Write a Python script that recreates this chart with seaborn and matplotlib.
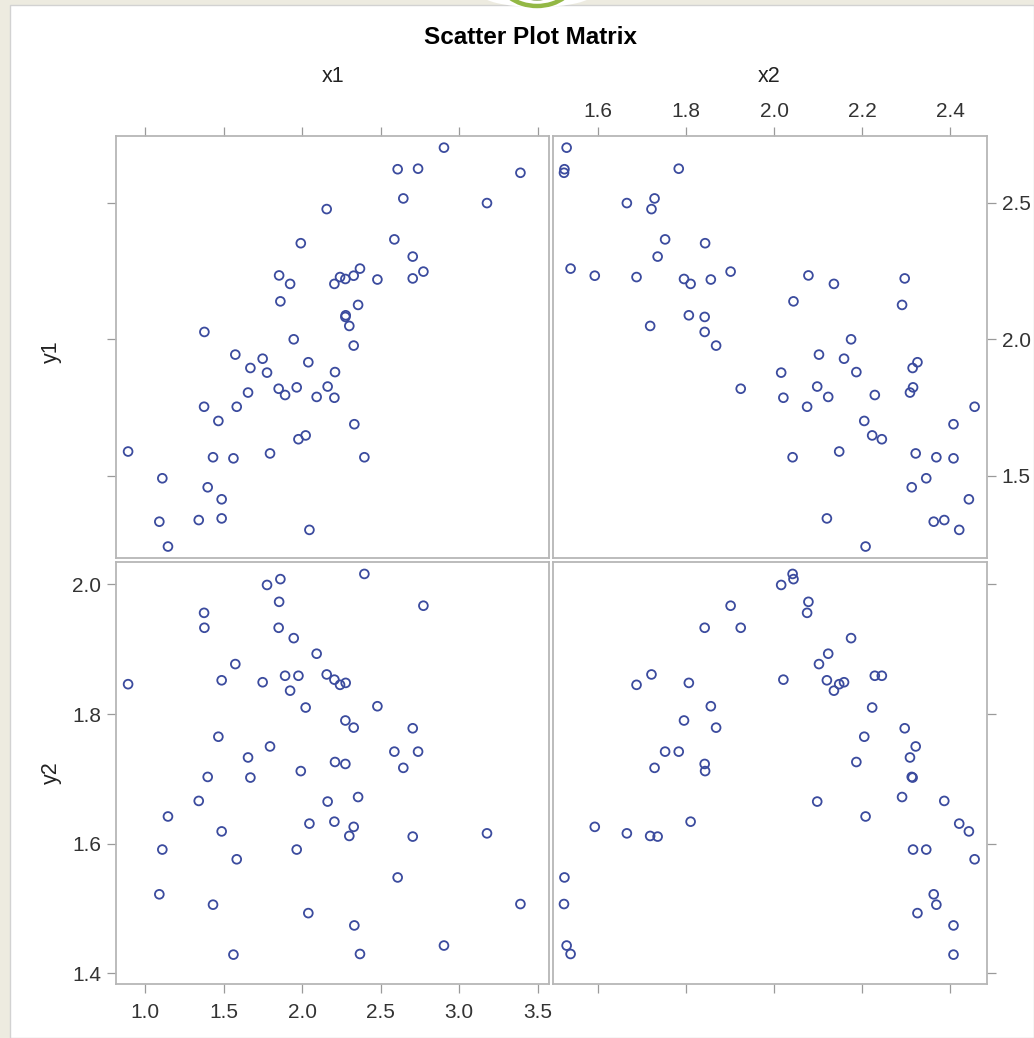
import numpy as np
import pandas as pd
import matplotlib
matplotlib.use("Agg")
import matplotlib.pyplot as plt
import seaborn as sns
from matplotlib.patches import Rectangle, Ellipse, Arc
from matplotlib.ticker import FormatStrFormatter

# ---- data (one value per observation) ----
x1 = [2.397, 1.862, 1.777, 1.854, 2.773, 1.376, 1.378, 1.851, 1.947, 2.093,
      1.575, 1.488, 0.892, 1.749, 1.892, 1.977, 2.157, 2.206, 2.242, 2.278,
      1.924, 2.023, 2.480, 2.276, 2.329, 2.705, 1.467, 1.796, 1.656, 2.588,
      2.739, 2.210, 2.276, 2.645, 1.399, 1.671, 1.992, 2.357, 1.342, 2.163,
      1.146, 2.047, 2.206, 2.329, 2.301, 2.705, 1.488, 3.178, 1.110, 1.966,
      1.584, 2.609, 1.091, 1.433, 2.040, 3.391, 2.333, 2.904, 1.563, 2.369]
x2 = [2.042, 2.044, 2.016, 2.078, 1.901, 2.075, 1.842, 1.924, 2.175, 2.123,
      2.102, 2.120, 2.148, 2.159, 2.229, 2.245, 1.721, 2.021, 1.687, 1.806,
      2.136, 2.223, 1.856, 1.795, 1.868, 2.297, 2.205, 2.322, 2.309, 1.752,
      1.783, 2.187, 1.842, 1.728, 2.313, 2.315, 1.843, 2.291, 2.387, 2.098,
      2.208, 2.421, 1.810, 1.592, 1.718, 1.735, 2.443, 1.665, 2.346, 2.316,
      2.456, 1.523, 2.363, 2.369, 2.326, 1.522, 2.408, 1.528, 2.408, 1.537]
y1 = [1.568, 2.139, 1.878, 2.234, 2.248, 1.753, 2.027, 1.819, 2.000, 1.789,
      1.944, 1.344, 1.589, 1.929, 1.796, 1.634, 2.477, 1.786, 2.228, 2.088,
      2.203, 1.648, 2.219, 2.221, 1.977, 2.223, 1.701, 1.582, 1.805, 2.366,
      2.625, 1.880, 2.082, 2.516, 1.458, 1.895, 2.352, 2.126, 1.338, 1.827,
      1.241, 1.302, 2.203, 2.233, 2.049, 2.303, 1.414, 2.499, 1.491, 1.824,
      1.753, 2.623, 1.332, 1.568, 1.916, 2.610, 1.689, 2.702, 1.564, 2.259]
y2 = [2.016, 2.008, 1.999, 1.973, 1.967, 1.956, 1.933, 1.933, 1.917, 1.893,
      1.877, 1.852, 1.846, 1.849, 1.859, 1.859, 1.861, 1.853, 1.845, 1.848,
      1.836, 1.810, 1.812, 1.790, 1.779, 1.778, 1.765, 1.750, 1.733, 1.742,
      1.742, 1.726, 1.723, 1.717, 1.703, 1.702, 1.712, 1.672, 1.666, 1.665,
      1.642, 1.631, 1.634, 1.626, 1.612, 1.611, 1.619, 1.616, 1.591, 1.591,
      1.576, 1.548, 1.522, 1.506, 1.493, 1.507, 1.474, 1.443, 1.429, 1.430]

x_vars = ["x1", "x2"]
y_vars = ["y1", "y2"]
x1_ticks = [1.0, 1.5, 2.0, 2.5, 3.0, 3.5]
x2_ticks = [1.6, 1.8, 2.0, 2.2, 2.4]
y1_ticks = [1.5, 2.0, 2.5]
y2_ticks = [1.4, 1.6, 1.8, 2.0]
title = "Scatter Plot Matrix"

df = pd.DataFrame({"x1": x1, "x2": x2, "y1": y1, "y2": y2})

W, H = 1034, 1038
MARK = "#3B4B9E"
SPINE = "#B6B6B6"
TICK = "#9A9A9A"

sns.set_theme(style="white")
plt.rcParams["font.family"] = ["Liberation Sans", "DejaVu Sans"]

g = sns.PairGrid(df, x_vars=x_vars, y_vars=y_vars, height=5, aspect=1, despine=False)
g.map(sns.scatterplot, marker="o", s=40, facecolor="none", edgecolor=MARK, linewidth=1.3)

fig = g.figure
fig.set_size_inches(W / 100, H / 100)
fig.set_dpi(100)
fig.patch.set_facecolor("#EDEBE0")
fig.add_artist(Rectangle((10 / W, 0), 1 - 10 / W, 1 - 5 / H, transform=fig.transFigure,
                         facecolor="white", edgecolor="#D2D2D2", lw=1.0, zorder=-5))

cols = [(116, 549), (553, 987)]
rows = [(136, 558), (562, 984)]
xlims = [(0.815, 3.573), (1.497, 2.4842)]
ylims = [(1.199, 2.7447), (1.3837, 2.0344)]
xticks = [x1_ticks, x2_ticks]
yticks = [y1_ticks, y2_ticks]

for i in range(2):
    for j in range(2):
        ax = g.axes[i, j]
        l, r = cols[j]
        t, b = rows[i]
        ax.set_position([l / W, 1 - b / H, (r - l) / W, (b - t) / H])
        ax.set_xlim(*xlims[j])
        ax.set_ylim(*ylims[i])
        ax.set_xticks(xticks[j])
        ax.set_yticks(yticks[i])
        ax.xaxis.set_major_formatter(FormatStrFormatter("%.1f"))
        ax.yaxis.set_major_formatter(FormatStrFormatter("%.1f"))
        ax.set_xlabel("")
        ax.set_ylabel("")
        ax.set_facecolor("white")
        for sp in ax.spines.values():
            sp.set_color(SPINE)
            sp.set_linewidth(1.3)
        ax.tick_params(length=6.5, width=0.9, color=TICK, labelsize=15,
                       labelcolor="#333333", direction="out")
        top_row = i == 0
        left_col = j == 0
        ax.tick_params(axis="x", top=top_row, bottom=not top_row,
                       labeltop=(top_row and not left_col),
                       labelbottom=(not top_row and left_col),
                       pad=4 if top_row else 7)
        ax.tick_params(axis="y", left=left_col, right=not left_col,
                       labelleft=(left_col and not top_row),
                       labelright=(not left_col and top_row),
                       pad=4)

# decorative logo fragment at the top edge
ov = fig.add_axes([0, 0, 1, 1], zorder=5)
ov.set_xlim(0, W)
ov.set_ylim(H, 0)
ov.axis("off")
ov.patch.set_alpha(0)
ov.add_patch(Ellipse((537, -6), 112, 26, facecolor="white", edgecolor="none"))
ov.add_patch(Arc((537, -24), 78, 60, color="#93B845", lw=3.2))
ov.add_patch(Arc((537, -24), 62, 46, color="#5F7F22", lw=2.2))

fig.text(530 / W, 1 - 38 / H, title, ha="center", va="center",
         fontsize=17.5, fontweight="bold", color="black")
fig.text(333 / W, 1 - 76 / H, "x1", ha="center", va="center", fontsize=15.5, color="#222222")
fig.text(769.5 / W, 1 - 76 / H, "x2", ha="center", va="center", fontsize=15.5, color="#222222")
fig.text(51 / W, 1 - 352 / H, "y1", ha="center", va="center", rotation=90, fontsize=15.5, color="#222222")
fig.text(51 / W, 1 - 773 / H, "y2", ha="center", va="center", rotation=90, fontsize=15.5, color="#222222")

fig.savefig("out.png", dpi=100, facecolor=fig.get_facecolor())
